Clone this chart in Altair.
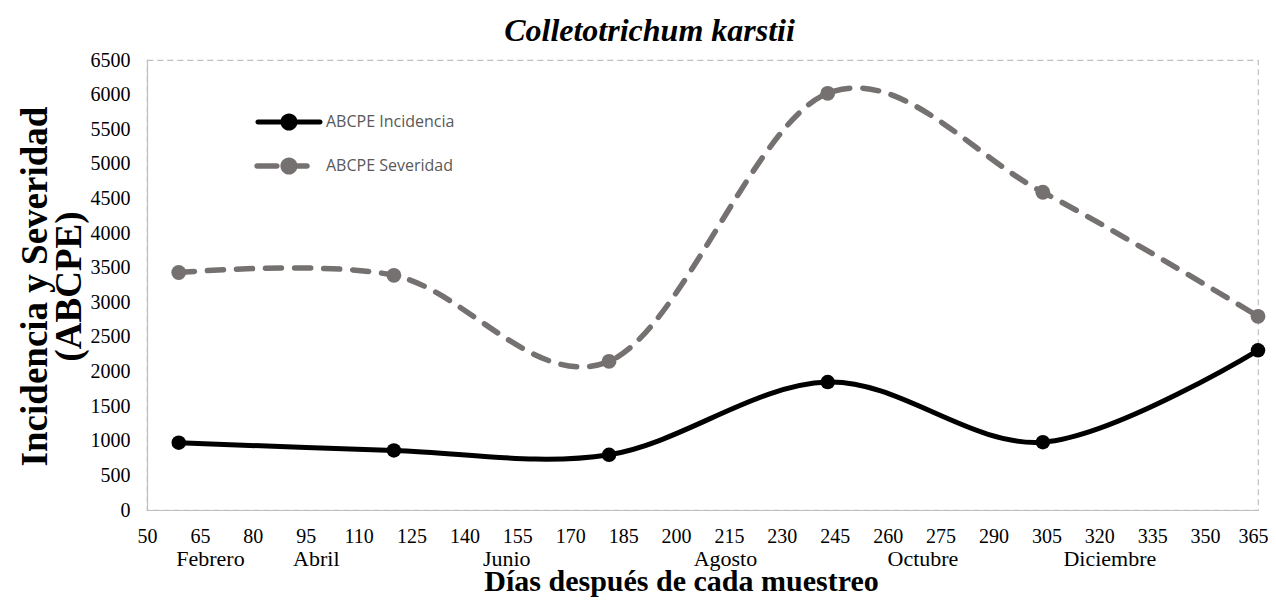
import altair as alt
import pandas as pd

# ---- data ----
days = [59, 120, 181, 243, 304, 365]
incidencia = [972, 860, 798, 1848, 980, 2307]
severidad = [3430, 3390, 2148, 6019, 4590, 2798]

series_names = ["ABCPE Incidencia", "ABCPE Severidad"]
series_colors = ["#000000", "#767171"]

x_ticks = [50, 65, 80, 95, 110, 125, 140, 155, 170, 185, 200, 215, 230, 245,
           260, 275, 290, 305, 320, 335, 350, 365]
y_ticks = [0, 500, 1000, 1500, 2000, 2500, 3000, 3500, 4000, 4500, 5000,
           5500, 6000, 6500]

months = ["Febrero", "Abril", "Junio", "Agosto", "Octubre", "Diciembre"]
month_pos = [68, 98, 152, 214, 270, 323]

# legend symbols (line + marker), unit coordinates
sym_inc = ("M-1.41,-0.114 L1.41,-0.114 A0.114,0.114 0 0,1 1.41,0.114 "
           "L-1.41,0.114 A0.114,0.114 0 0,1 -1.41,-0.114 Z "
           "M-0.39,0 A0.39,0.39 0 1,1 0.39,0 A0.39,0.39 0 1,1 -0.39,0 Z")
sym_sev = ("M-1.45,-0.125 L-0.55,-0.125 A0.125,0.125 0 0,1 -0.55,0.125 "
           "L-1.45,0.125 A0.125,0.125 0 0,1 -1.45,-0.125 Z "
           "M0.36,-0.125 L0.82,-0.125 A0.125,0.125 0 0,1 0.82,0.125 "
           "L0.36,0.125 A0.125,0.125 0 0,1 0.36,-0.125 Z "
           "M-0.39,0 A0.39,0.39 0 1,1 0.39,0 A0.39,0.39 0 1,1 -0.39,0 Z")

W, H = 1111, 450
SERIF = "Liberation Serif"

rows = []
for d, a, b in zip(days, incidencia, severidad):
    rows.append({"dia": d, "valor": a, "serie": series_names[0]})
    rows.append({"dia": d, "valor": b, "serie": series_names[1]})
df = pd.DataFrame(rows)
mdf = pd.DataFrame({"mes": months, "pos": month_pos})

xscale = alt.Scale(domain=[50, 365], nice=False, zero=False)
yscale = alt.Scale(domain=[0, 6500], nice=False)

x_enc = alt.X("dia:Q", scale=xscale,
              axis=alt.Axis(values=x_ticks, tickCount=40, format="d",
                            title="Días después de cada muestreo",
                            titleX=534, titleY=80, titleAlign="center",
                            titleBaseline="alphabetic", titleFont=SERIF,
                            titleFontSize=30, titleFontWeight="bold",
                            titleColor="#000000", labelPadding=16,
                            labelOverlap=False, labelFlush=True,
                            labelFlushOffset=10))
y_enc = alt.Y("valor:Q", scale=yscale,
              axis=alt.Axis(values=y_ticks, tickCount=30, format="d",
                            title=["Incidencia y Severidad", "(ABCPE)"],
                            titleX=-112, titleY=226, titleAngle=-90,
                            titleAlign="center", titleBaseline="middle",
                            titleLineHeight=34, titleFont=SERIF,
                            titleFontSize=37, titleFontWeight="bold",
                            titleColor="#000000", labelPadding=17,
                            labelOverlap=False, labelFlush=False, labelBound=False))

base = alt.Chart(df)

inc_line = base.transform_filter(alt.datum.serie == series_names[0]).mark_line(
    interpolate="cardinal", color=series_colors[0], strokeWidth=5, strokeCap="round"
).encode(x=x_enc, y=y_enc)

sev_line = base.transform_filter(alt.datum.serie == series_names[1]).mark_line(
    interpolate="cardinal", color=series_colors[1], strokeWidth=5.5,
    strokeCap="round", strokeDash=[16, 13]
).encode(x="dia:Q", y="valor:Q")

inc_pts = base.transform_filter(alt.datum.serie == series_names[0]).mark_circle(
    color=series_colors[0], size=210, opacity=1
).encode(x="dia:Q", y="valor:Q")

sev_pts = base.transform_filter(alt.datum.serie == series_names[1]).mark_circle(
    color=series_colors[1], size=220, opacity=1
).encode(x="dia:Q", y="valor:Q")

leg = alt.Legend(title=None, orient="none", legendX=120, legendY=40, padding=0,
                 symbolSize=1936, symbolStrokeWidth=0, symbolOpacity=1,
                 labelOffset=15, labelFont="Open Sans", labelFontSize=16,
                 labelColor="#595959", rowPadding=13, labelLimit=300)

legend_layer = base.mark_point(filled=True, opacity=0).encode(
    x="dia:Q", y="valor:Q",
    color=alt.Color("serie:N", scale=alt.Scale(domain=series_names, range=series_colors),
                    legend=leg),
    shape=alt.Shape("serie:N", scale=alt.Scale(domain=series_names, range=[sym_inc, sym_sev]),
                    legend=leg),
)

month_text = alt.Chart(mdf).mark_text(
    font=SERIF, fontSize=22, color="#000000", baseline="middle", align="center"
).encode(x=alt.X("pos:Q", scale=xscale), y=alt.value(H + 49), text="mes:N")

chart = alt.layer(sev_line, inc_line, sev_pts, inc_pts, legend_layer, month_text).properties(
    width=W, height=H,
    title=alt.TitleParams(text="Colletotrichum karstii", font=SERIF, fontSize=32,
                          fontStyle="italic", fontWeight="bold", color="#000000",
                          anchor="middle", dx=-53, offset=-23, baseline="alphabetic"),
    autosize=alt.AutoSizeParams(type="none"),
    padding={"left": 139, "top": 52, "right": 10, "bottom": 88},
).configure_view(
    stroke="#bfbfbf", strokeDash=[6, 4], strokeWidth=1.2
).configure_axis(
    grid=False, ticks=False, domainColor="#bfbfbf", domainWidth=1.2,
    labelFont=SERIF, labelFontSize=20, labelColor="#000000"
)

chart.save("out.html", embed_options={"renderer": "svg", "actions": False})
